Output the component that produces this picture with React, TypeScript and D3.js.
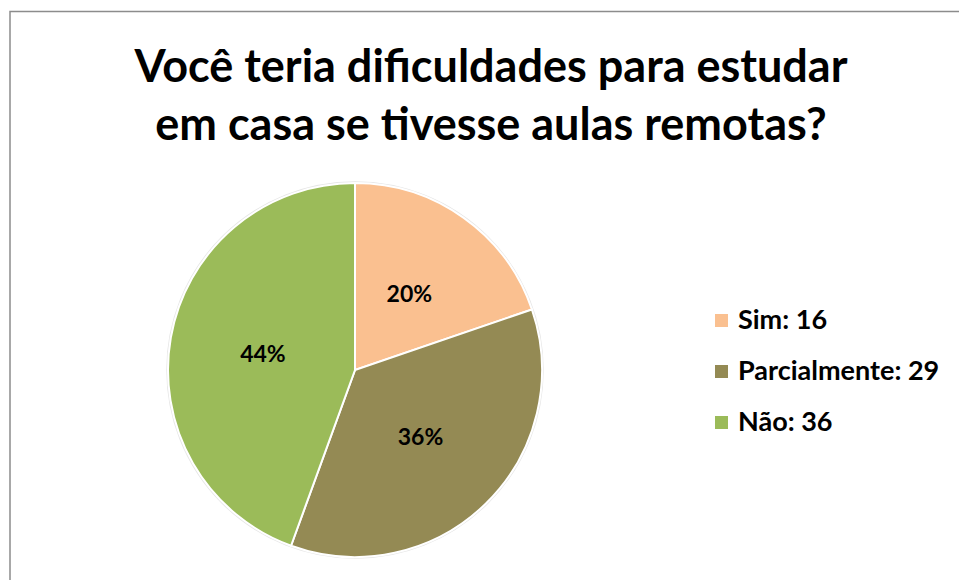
import React, { useEffect, useRef } from "react";
import * as d3 from "d3";

const width = 959,
  height = 580;

// dados
const categorias = ["Sim", "Parcialmente", "Não"];
const valores = [16, 29, 36];
const cores = ["#FAC090", "#948A54", "#9BBB59"];
const titulo = ["Você teria dificuldades para estudar", "em casa se tivesse aulas remotas?"];

export default function App() {
  const ref = useRef<SVGSVGElement>(null);

  useEffect(() => {
    const svg = d3.select(ref.current);
    svg.selectAll("*").remove();

    const font = "Lato, 'Open Sans', sans-serif";

    // moldura
    svg
      .append("rect")
      .attr("x", 10)
      .attr("y", 11.5)
      .attr("width", 1000)
      .attr("height", 1000)
      .attr("fill", "white")
      .attr("stroke", "#8c8c8c")
      .attr("stroke-width", 1.5);

    // título
    svg
      .append("g")
      .attr("font-family", font)
      .attr("font-weight", "bold")
      .attr("font-size", 45)
      .attr("text-anchor", "middle")
      .selectAll("text")
      .data(titulo)
      .join("text")
      .attr("x", 491)
      .attr("y", (d, i) => 82 + i * 58)
      .text(d => d);

    const data = categorias.map((c, i) => ({ cat: c, value: valores[i], color: cores[i] }));
    const total = d3.sum(valores);

    const cx = 355,
      cy = 370,
      r = 187;

    const pie = d3
      .pie<any>()
      .sort(null)
      .value(d => d.value);
    const arcs = pie(data);

    const arc = d3.arc<any>().innerRadius(0).outerRadius(r);
    const arcLabel = d3.arc<any>().innerRadius(r * 0.5).outerRadius(r * 0.5);

    const g = svg.append("g").attr("transform", `translate(${cx},${cy})`);

    g.append("circle").attr("r", r + 1).attr("fill", "none").attr("stroke", "#e6e6e6").attr("stroke-width", 1.5);

    g.append("g")
      .attr("stroke", "white")
      .attr("stroke-width", 2)
      .selectAll("path")
      .data(arcs)
      .join("path")
      .attr("fill", d => d.data.color)
      .attr("d", arc);

    g.append("g")
      .attr("font-family", font)
      .attr("font-weight", "bold")
      .attr("font-size", 23)
      .attr("text-anchor", "middle")
      .selectAll("text")
      .data(arcs)
      .join("text")
      .attr("transform", d => {
        const [x, y] = arcLabel.centroid(d);
        return `translate(${x},${y + 8})`;
      })
      .text(d => `${Math.round((d.data.value / total) * 100)}%`);

    // legenda
    const leg = svg
      .append("g")
      .attr("font-family", font)
      .attr("font-weight", "bold")
      .attr("font-size", 27)
      .selectAll("g")
      .data(data)
      .join("g")
      .attr("transform", (d, i) => `translate(715,${329 + i * 51})`);

    leg.append("rect").attr("x", 0).attr("y", -15).attr("width", 13).attr("height", 13).attr("fill", d => d.color);
    leg
      .append("text")
      .attr("x", 23)
      .attr("y", 0)
      .text(d => `${d.cat}: ${d.value}`);
  }, []);

  return (
    <svg
      ref={ref}
      width={width}
      height={height}
      style={{ position: "absolute", left: 0, top: 0 }}
    ></svg>
  );
}
